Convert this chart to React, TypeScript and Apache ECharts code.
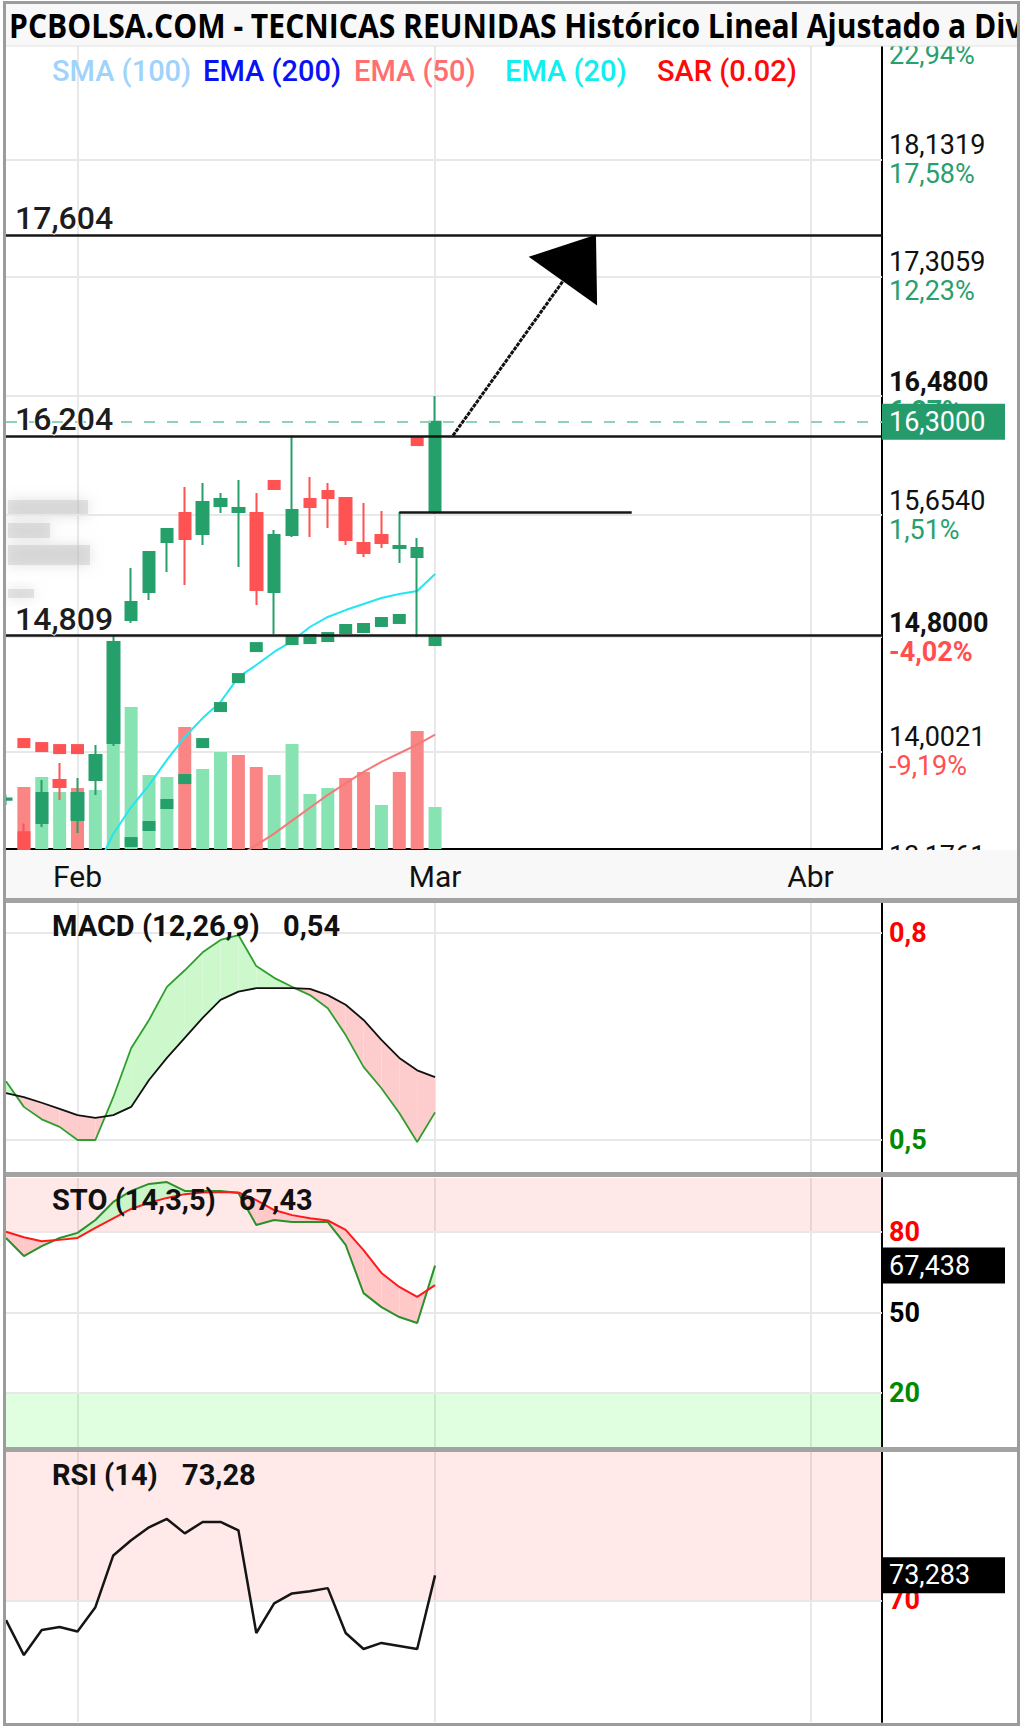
import React, { useEffect, useRef } from "react";
import * as echarts from "echarts";

// ---------------- DATA ----------------
const dates = [
  "2025-01-28", "2025-01-29", "2025-01-30", "2025-01-31", "2025-02-03", "2025-02-04", "2025-02-05",
  "2025-02-06", "2025-02-07", "2025-02-10", "2025-02-11", "2025-02-12", "2025-02-13", "2025-02-14",
  "2025-02-17", "2025-02-18", "2025-02-19", "2025-02-20", "2025-02-21", "2025-02-24", "2025-02-25",
  "2025-02-26", "2025-02-27", "2025-02-28", "2025-03-03", "2025-03-04", "2025-03-05", "2025-03-06",
  "2025-03-07", "2025-03-10", "2025-03-11", "2025-03-12", "2025-03-13", "2025-03-14", "2025-03-17",
  "2025-03-18", "2025-03-19", "2025-03-20", "2025-03-21", "2025-03-24", "2025-03-25", "2025-03-26",
  "2025-03-27", "2025-03-28", "2025-03-31", "2025-04-01", "2025-04-02", "2025-04-03", "2025-04-04",
  "2025-04-07",
];
const monthNames = ["Ene", "Feb", "Mar", "Abr", "May", "Jun", "Jul", "Ago", "Sep", "Oct", "Nov", "Dic"];

const openP = [13.665, 13.44, 13.504, 13.803, 13.524, 13.803, 14.061, 14.919, 15.114, 15.462, 15.665, 15.518, 15.713, 15.672, 15.665, 15.114, 15.511, 15.762, 15.818, 15.769, 15.455, 15.511, 15.42, 15.358, 15.672];
const closeP = [13.675, 13.3, 13.713, 13.754, 13.713, 13.978, 14.765, 15.044, 15.393, 15.553, 15.483, 15.741, 15.762, 15.699, 15.128, 15.511, 15.685, 15.706, 15.769, 15.476, 15.386, 15.455, 15.434, 15.42, 16.3];
const lowP = [13.63, 13.25, 13.476, 13.664, 13.434, 13.699, 14.04, 14.898, 15.058, 15.253, 15.163, 15.441, 15.665, 15.288, 15.023, 14.82, 15.497, 15.497, 15.56, 15.441, 15.358, 15.42, 15.316, 14.8, 15.66];
const highP = [13.7, 13.5, 13.803, 13.922, 13.817, 14.047, 14.809, 15.281, 15.4, 15.56, 15.846, 15.874, 15.804, 15.895, 15.804, 15.546, 16.204, 15.916, 15.874, 15.776, 15.734, 15.679, 15.672, 15.49, 16.48];

// volume, thousands of shares
const volumes = [null, 620, 720, 570, 610, 590, 1300, 1420, 740, 720, 1220, 800, 970, 940, 820, 740, 1050, 550, 610, 710, 770, 440, 770, 1180, 420];
const volumeUp = [true, false, true, true, false, true, true, true, true, true, false, true, true, false, false, true, true, true, true, false, false, true, false, false, true];

const ema20 = [null, null, null, null, null, 13.176, 13.427, 13.615, 13.768, 13.943, 14.103, 14.235, 14.347, 14.521, 14.605, 14.696, 14.772, 14.87, 14.94, 14.988, 15.03, 15.072, 15.1, 15.121, 15.239];
const ema50 = [null, null, null, null, null, null, null, null, null, null, null, null, 13.2, 13.27, 13.35, 13.43, 13.52, 13.61, 13.7, 13.78, 13.86, 13.93, 13.99, 14.05, 14.12];

const sarBelow = [null, null, null, null, null, 13.2, 13.3, 13.371, 13.483, 13.636, 13.81, 14.061, 14.312, 14.514, 14.73, null, 14.779, 14.786, 14.8, 14.856, 14.863, 14.905, 14.926, null, 14.772];
const sarAbove = [null, 14.061, 14.033, 14.019, 14.019, null, null, null, null, null, null, null, null, null, null, 15.86, null, null, null, null, null, null, null, 16.166, null];

const macdLine = [0.585, 0.548, 0.53, 0.519, 0.5, 0.5, 0.562, 0.633, 0.674, 0.722, 0.746, 0.772, 0.79, 0.797, 0.752, 0.735, 0.722, 0.71, 0.691, 0.652, 0.606, 0.575, 0.539, 0.497, 0.54];
const macdSignal = [0.568, 0.562, 0.554, 0.545, 0.536, 0.532, 0.536, 0.548, 0.587, 0.619, 0.648, 0.677, 0.703, 0.715, 0.72, 0.72, 0.72, 0.719, 0.71, 0.696, 0.674, 0.645, 0.619, 0.601, 0.591];

const stoK = [77.7, 71.0, 74.7, 77.7, 79.6, 84.4, 91.1, 95.2, 97.8, 98.5, 95.2, 95.2, 95.2, 94.4, 82.5, 84.4, 83.6, 83.6, 83.6, 75.1, 57.2, 52.0, 48.3, 46.1, 67.438];
const stoD = [80.0, 78.0, 76.5, 77.0, 77.7, 81.5, 85.0, 88.5, 90.8, 92.6, 94.0, 94.6, 94.8, 94.6, 91.8, 88.1, 86.2, 85.0, 84.2, 80.7, 73.2, 64.7, 59.5, 55.8, 60.2];
const rsi14 = [67.4, 62.8, 66.1, 66.5, 65.9, 69.1, 75.9, 77.9, 79.6, 80.7, 78.8, 80.3, 80.3, 79.2, 65.7, 69.6, 70.9, 71.2, 71.6, 65.7, 63.6, 64.4, 64.0, 63.6, 73.283];

// price scale ticks (first and last fall just outside the visible price range)
const priceTicks = [18.958, 18.1319, 17.3059, 16.48, 15.654, 14.8, 14.0021, 13.1761];
const priceTickText = ["18,9580", "18,1319", "17,3059", "16,4800", "15,6540", "14,8000", "14,0021", "13,1761"];
const priceTickPct = ["22,94%", "17,58%", "12,23%", "6,87%", "1,51%", "-4,02%", "-9,19%", "-14,55%"];
const priceTickBold = [false, false, false, true, false, true, false, false];
const priceTickStep = 0.82595;

const levelValues = [17.604, 16.204, 14.809];
const levelText = ["17,604", "16,204", "14,809"];
const lastPrice = 16.3;
const lastPriceText = "16,3000";
const stepLevel = 15.672;
const stepFrom = 22;
const stepTo = 35;
const arrowFrom = [25, 16.204];
const arrowTo = [33, 17.604];

const macdTicks = [0.8, 0.5];
const macdTickText = ["0,8", "0,5"];
const macdTickColor = ["#ff0000", "#008a00"];
const stoTicks = [80, 50, 20];
const stoTickText = ["80", "50", "20"];
const stoTickColor = ["#ff0000", "#000000", "#008a00"];
const rsiTicks = [70];
const rsiTickText = ["70"];
const rsiTickColor = ["#ff0000"];
const stoLastText = "67,438";
const rsiLastText = "73,283";

const titleText = "PCBOLSA.COM - TECNICAS REUNIDAS Histórico Lineal Ajustado a Div";
const legendNames = ["SMA (100)", "EMA (200)", "EMA (50)", "EMA (20)", "SAR (0.02)"];
const legendColors = ["#9fd3fb", "#0a12f5", "#ff6f6f", "#10eeee", "#ff0a0a"];
const panelTitles = [
  ["MACD (12,26,9)", "0,54"],
  ["STO (14,3,5)", "67,43"],
  ["RSI (14)", "73,28"],
];

// ---------------- LAYOUT / STYLE ----------------
const W = 1022;
const H = 1729;
const GL = 6;
const GW = 876;
const MAIN_TOP = 46;
const MAIN_H = 803;
const PMIN = 13.3225;
const PMAX = 18.92;
const F = "Roboto";
const GREEN = "#26a06a";
const RED = "#ff5252";
const VOL_GREEN = "#88e3b3";
const VOL_RED = "#f98585";
const GRIDC = "#e8e8e8";
const CLEAR = "rgba(0,0,0,0)";

const isMonthStart = (i: number) => i > 0 && dates[i].slice(5, 7) !== dates[i - 1].slice(5, 7);
const nz = (a: (number | null)[]) => a.map((v) => (v == null ? "-" : v));

function measure(text: string, font: string) {
  const c = document.createElement("canvas").getContext("2d");
  if (!c) return text.length * 16;
  c.font = font;
  return c.measureText(text).width;
}

function xAxisFor(gridIndex: number, showLine: boolean) {
  return {
    type: "category",
    gridIndex,
    data: dates,
    boundaryGap: false,
    axisLine: { show: showLine, onZero: false, lineStyle: { color: "#000", width: 2 } },
    axisTick: { show: false },
    axisLabel: { show: false },
    splitLine: { show: true, interval: (i: number) => isMonthStart(i), lineStyle: { color: GRIDC, width: 2 } },
  };
}

function yAxisFor(gridIndex: number, min: number, max: number) {
  return {
    type: "value",
    gridIndex,
    position: "right",
    min,
    max,
    axisLine: { show: true, lineStyle: { color: "#000", width: 2 } },
    axisTick: { show: false },
    axisLabel: { show: false },
    splitLine: { show: false },
  };
}

function fillSeries(xi: number, yi: number, a: number[], b: number[], up: string, down: string) {
  const segs: number[][] = [];
  for (let i = 0; i < a.length - 1; i++) segs.push([i, a[i], b[i], a[i + 1], b[i + 1]]);
  return {
    type: "custom",
    xAxisIndex: xi,
    yAxisIndex: yi,
    z: 2,
    silent: true,
    data: segs,
    encode: { x: 0, y: 1 },
    renderItem: (params: any, api: any) => {
      const i = api.value(0);
      const a0 = api.value(1), b0 = api.value(2), a1 = api.value(3), b1 = api.value(4);
      const pa0 = api.coord([i, a0]), pb0 = api.coord([i, b0]);
      const pa1 = api.coord([i + 1, a1]), pb1 = api.coord([i + 1, b1]);
      const d0 = a0 - b0, d1 = a1 - b1;
      const children: any[] = [];
      if (d0 * d1 >= 0) {
        children.push({ type: "polygon", shape: { points: [pa0, pa1, pb1, pb0] }, style: { fill: d0 + d1 >= 0 ? up : down } });
      } else {
        const t = d0 / (d0 - d1);
        const p = [pa0[0] + (pa1[0] - pa0[0]) * t, pa0[1] + (pa1[1] - pa0[1]) * t];
        children.push({ type: "polygon", shape: { points: [pa0, p, pb0] }, style: { fill: d0 > 0 ? up : down } });
        children.push({ type: "polygon", shape: { points: [p, pa1, pb1] }, style: { fill: d1 > 0 ? up : down } });
      }
      return { type: "group", children };
    },
  };
}

function tickLine(v: number, text: string, color: string) {
  return {
    yAxis: v,
    label: { formatter: text, color, fontWeight: "bold", fontSize: 27, fontFamily: F },
  };
}

function boxItem(v: number, text: string, bg: string) {
  return {
    yAxis: v,
    lineStyle: { color: CLEAR, width: 1 },
    label: {
      show: true,
      position: "end",
      distance: 0,
      formatter: text,
      backgroundColor: bg,
      color: "#fff",
      fontFamily: F,
      fontSize: 27,
      fontWeight: "normal",
      lineHeight: 28,
      padding: [4, 7, 4, 7],
      width: 109,
    },
  };
}

function priceTickRich(i: number) {
  const pk = priceTickBold[i] ? "pb" : "p";
  const neg = priceTickPct[i].startsWith("-");
  const qk = (neg ? "r" : "g") + (priceTickBold[i] ? "b" : "");
  return `{${pk}|${priceTickText[i]}}\n{${qk}|${priceTickPct[i]}}`;
}

function buildOption() {
  const titleFont = 'bold 34px "Open Sans"';
  const titleScale = 1014 / measure(titleText, titleFont);

  const inRange = (v: number) => v >= PMIN && v <= PMAX;
  const priceTickItems = priceTicks
    .map((v, i) => ({ v, i }))
    .filter((t) => inRange(t.v))
    .map((t) => ({ yAxis: t.v, label: { formatter: priceTickRich(t.i) } }));

  // outer scale grid spanning the outermost ticks (only used for the labels outside the visible range)
  const pxPerUnit = MAIN_H / (PMAX - PMIN);
  const tMax = priceTicks[0];
  const tMin = priceTicks[priceTicks.length - 1];
  const outerTop = MAIN_TOP - (tMax - PMAX) * pxPerUnit;
  const outerH = (tMax - tMin) * pxPerUnit;

  const levelItems: any[] = levelValues.map((v, i) => ({
    yAxis: v,
    lineStyle: { color: "#161616", width: 2.5, type: "solid" },
    label: {
      show: true,
      position: "insideStartTop",
      distance: [9, 1],
      formatter: levelText[i],
      fontFamily: F,
      fontSize: 32,
      fontWeight: 500,
      color: "#1d1d1d",
      textBorderColor: "#fff",
      textBorderWidth: 2,
    },
  }));
  levelItems.push({
    yAxis: lastPrice,
    lineStyle: { color: "#8fd1b9", width: 2, type: [11, 12] },
    label: {
      show: true,
      position: "end",
      distance: 0,
      formatter: lastPriceText,
      backgroundColor: "#259b6c",
      color: "#fff",
      fontFamily: F,
      fontSize: 27,
      lineHeight: 28,
      padding: [4, 7, 4, 7],
      width: 109,
    },
  });
  levelItems.push([
    { coord: [stepFrom, stepLevel], lineStyle: { color: "#161616", width: 2.5, type: "solid" }, label: { show: false } },
    { coord: [stepTo, stepLevel] },
  ]);

  const legendX = [52, 203, 354, 505, 657];
  const panelY = [926, 1200, 1475];
  const panelValX = [283, 239, 182];
  const smudge = { fill: "rgba(190,190,190,0.4)", shadowBlur: 14, shadowColor: "rgba(175,175,175,0.9)" };

  const graphics: any[] = [
    { type: "rect", z: 1, shape: { x: 8, y: 500, width: 80, height: 16 }, style: smudge },
    { type: "rect", z: 1, shape: { x: 8, y: 523, width: 42, height: 15 }, style: smudge },
    { type: "rect", z: 1, shape: { x: 8, y: 545, width: 82, height: 20 }, style: smudge },
    { type: "rect", z: 1, shape: { x: 8, y: 589, width: 26, height: 9 }, style: smudge },

    { type: "rect", z: 100, shape: { x: 5, y: 3, width: 1013, height: 43 }, style: { fill: "#f8f8f8" } },
    { type: "line", z: 100, shape: { x1: 5, y1: 46, x2: 1018, y2: 46 }, style: { stroke: "#e2e2e2", lineWidth: 1 } },
    {
      type: "text", z: 101, x: 9, y: 25, scaleX: titleScale,
      style: { text: titleText, fontFamily: "Open Sans", fontWeight: "bold", fontSize: 34, fill: "#000", verticalAlign: "middle" },
    },
    ...legendNames.map((n, i) => ({
      type: "text", z: 101, x: legendX[i], y: 71,
      style: { text: n, fontFamily: F, fontWeight: 500, fontSize: 29, fill: legendColors[i], verticalAlign: "middle" },
    })),
    { type: "rect", z: 100, shape: { x: 5, y: 850, width: 1013, height: 48 }, style: { fill: "#f8f8f8" } },
    { type: "rect", z: 100, shape: { x: 5, y: 898, width: 1013, height: 5 }, style: { fill: "#a3a3a3" } },
    { type: "rect", z: 100, shape: { x: 5, y: 1172, width: 1013, height: 5 }, style: { fill: "#a3a3a3" } },
    { type: "rect", z: 100, shape: { x: 5, y: 1447, width: 1013, height: 5 }, style: { fill: "#a3a3a3" } },
    ...panelTitles.flatMap((t, i) => [
      { type: "text", z: 101, x: 52, y: panelY[i], style: { text: t[0], fontFamily: F, fontWeight: "bold", fontSize: 29, fill: "#111", verticalAlign: "middle" } },
      { type: "text", z: 101, x: panelValX[i], y: panelY[i], style: { text: t[1], fontFamily: F, fontWeight: "bold", fontSize: 29, fill: "#111", verticalAlign: "middle" } },
    ]),
    { type: "rect", z: 102, shape: { x: 0, y: 0, width: 4, height: H }, style: { fill: "#fff" } },
    { type: "rect", z: 102, shape: { x: 1019, y: 0, width: 3, height: H }, style: { fill: "#fff" } },
    { type: "rect", z: 103, shape: { x: 4.5, y: 2.5, width: 1014, height: 1722 }, style: { fill: "none", stroke: "#9c9c9c", lineWidth: 3 } },
  ];

  const rich = {
    p: { fontFamily: F, fontSize: 27, lineHeight: 29, color: "#111" },
    pb: { fontFamily: F, fontSize: 27, lineHeight: 29, color: "#111", fontWeight: "bold" },
    g: { fontFamily: F, fontSize: 27, lineHeight: 29, color: "#2a9f6e" },
    gb: { fontFamily: F, fontSize: 27, lineHeight: 29, color: "#2a9f6e", fontWeight: "bold" },
    r: { fontFamily: F, fontSize: 27, lineHeight: 29, color: "#ff4f4f" },
    rb: { fontFamily: F, fontSize: 27, lineHeight: 29, color: "#ff4f4f", fontWeight: "bold" },
  };

  return {
    animation: false,
    backgroundColor: "#fff",
    grid: [
      { left: GL, top: MAIN_TOP, width: GW, height: MAIN_H },
      { left: GL, top: 903, width: GW, height: 269 },
      { left: GL, top: 1178, width: GW, height: 269 },
      { left: GL, top: 1452, width: GW, height: 270 },
      { left: GL, top: 849, width: GW, height: 1 },
      { left: GL, top: outerTop, width: GW, height: outerH },
    ],
    xAxis: [
      xAxisFor(0, true),
      xAxisFor(1, false),
      xAxisFor(2, false),
      xAxisFor(3, false),
      {
        type: "category",
        gridIndex: 4,
        data: dates,
        boundaryGap: false,
        z: 110,
        axisLine: { show: false },
        axisTick: { show: false },
        splitLine: { show: false },
        axisLabel: {
          show: true,
          interval: (i: number) => isMonthStart(i),
          formatter: (v: string) => monthNames[parseInt(v.slice(5, 7), 10) - 1],
          margin: 11,
          fontFamily: F,
          fontSize: 30,
          color: "#111",
        },
      },
      { type: "category", gridIndex: 5, data: dates, boundaryGap: false, show: false },
    ],
    yAxis: [
      yAxisFor(0, PMIN, PMAX),
      { type: "value", gridIndex: 0, min: 0, max: 8030, show: false },
      yAxisFor(1, 0.45362, 0.84348),
      yAxisFor(2, 0, 100),
      yAxisFor(3, 54, 89.5),
      { type: "value", gridIndex: 4, show: false },
      {
        type: "value",
        gridIndex: 5,
        position: "right",
        min: tMin,
        max: tMax,
        interval: priceTickStep,
        axisLine: { show: false },
        axisTick: { show: false },
        splitLine: { show: false },
        axisLabel: {
          show: true,
          showMinLabel: true,
          showMaxLabel: true,
          margin: 7,
          rich,
          formatter: (v: number) => {
            const i = priceTicks.findIndex((t) => Math.abs(t - v) < 0.02);
            if (i < 0 || inRange(priceTicks[i])) return "";
            return priceTickRich(i);
          },
        },
      },
    ],
    graphic: { elements: graphics },
    series: [
      {
        name: "Volumen",
        type: "bar",
        xAxisIndex: 0,
        yAxisIndex: 1,
        barWidth: 13,
        z: 2,
        silent: true,
        data: volumes.map((v, i) => (v == null ? "-" : { value: v, itemStyle: { color: volumeUp[i] ? VOL_GREEN : VOL_RED } })),
      },
      {
        name: "EMA (50)",
        type: "line",
        xAxisIndex: 0,
        yAxisIndex: 0,
        z: 3,
        silent: true,
        showSymbol: false,
        data: nz(ema50),
        lineStyle: { color: "#f47a7a", width: 2 },
        markLine: {
          silent: true,
          symbol: "none",
          z: 1,
          animation: false,
          lineStyle: { color: GRIDC, width: 2, type: "solid" },
          label: { show: true, position: "end", distance: 7, fontFamily: F, rich },
          data: priceTickItems,
        },
      },
      {
        name: "EMA (20)",
        type: "line",
        xAxisIndex: 0,
        yAxisIndex: 0,
        z: 3,
        silent: true,
        showSymbol: false,
        data: nz(ema20),
        lineStyle: { color: "#22e6f0", width: 2 },
        markLine: {
          silent: true,
          symbol: "none",
          z: 6,
          animation: false,
          data: levelItems,
        },
      },
      {
        name: "Precio",
        type: "candlestick",
        xAxisIndex: 0,
        yAxisIndex: 0,
        z: 4,
        silent: true,
        barWidth: 12,
        data: openP.map((o, i) => [o, closeP[i], lowP[i], highP[i]]),
        itemStyle: { color: GREEN, color0: RED, borderColor: GREEN, borderColor0: RED, borderWidth: 2 },
      },
      {
        name: "SAR up",
        type: "scatter",
        xAxisIndex: 0,
        yAxisIndex: 0,
        z: 5,
        silent: true,
        symbol: "rect",
        symbolSize: [13, 10],
        data: nz(sarBelow),
        itemStyle: { color: GREEN, opacity: 1 },
      },
      {
        name: "SAR down",
        type: "scatter",
        xAxisIndex: 0,
        yAxisIndex: 0,
        z: 5,
        silent: true,
        symbol: "rect",
        symbolSize: [13, 10],
        data: nz(sarAbove),
        itemStyle: { color: RED, opacity: 1 },
      },
      {
        type: "custom",
        xAxisIndex: 0,
        yAxisIndex: 0,
        z: 7,
        silent: true,
        data: [[arrowFrom[0], arrowFrom[1], arrowTo[0], arrowTo[1]]],
        encode: { x: 0, y: 1 },
        renderItem: (params: any, api: any) => {
          const p0 = api.coord([api.value(0), api.value(1)]);
          const p1 = api.coord([api.value(2), api.value(3)]);
          const dx = p1[0] - p0[0], dy = p1[1] - p0[1];
          const len = Math.hypot(dx, dy);
          const ux = dx / len, uy = dy / len;
          const headLen = 57, half = 42;
          const base = [p1[0] - ux * headLen, p1[1] - uy * headLen];
          const l = [base[0] + uy * half, base[1] - ux * half];
          const r = [base[0] - uy * half, base[1] + ux * half];
          return {
            type: "group",
            children: [
              { type: "line", shape: { x1: p0[0], y1: p0[1], x2: base[0], y2: base[1] }, style: { stroke: "#111", lineWidth: 3, lineDash: [4, 1] } },
              { type: "polygon", shape: { points: [p1, l, r] }, style: { fill: "#000" } },
            ],
          };
        },
      },
      // MACD
      fillSeries(1, 2, macdLine, macdSignal, "#ccf8cc", "#fdcccc"),
      {
        name: "MACD",
        type: "line",
        xAxisIndex: 1,
        yAxisIndex: 2,
        z: 3,
        silent: true,
        showSymbol: false,
        data: macdLine,
        lineStyle: { color: "#2f9e2f", width: 1.8 },
      },
      {
        name: "Señal",
        type: "line",
        xAxisIndex: 1,
        yAxisIndex: 2,
        z: 3,
        silent: true,
        showSymbol: false,
        data: macdSignal,
        lineStyle: { color: "#111", width: 1.8 },
        markLine: {
          silent: true,
          symbol: "none",
          z: 1,
          animation: false,
          lineStyle: { color: GRIDC, width: 2, type: "solid" },
          label: { show: true, position: "end", distance: 7 },
          data: macdTicks.map((v, i) => tickLine(v, macdTickText[i], macdTickColor[i])),
        },
      },
      // STO
      fillSeries(2, 3, stoK, stoD, "#c9f5c9", "#ffc9c9"),
      {
        name: "%K",
        type: "line",
        xAxisIndex: 2,
        yAxisIndex: 3,
        z: 3,
        silent: true,
        showSymbol: false,
        data: stoK,
        lineStyle: { color: "#2a912a", width: 2 },
        markLine: {
          silent: true,
          symbol: "none",
          z: 8,
          animation: false,
          data: [boxItem(stoK[stoK.length - 1], stoLastText, "#000")],
        },
      },
      {
        name: "%D",
        type: "line",
        xAxisIndex: 2,
        yAxisIndex: 3,
        z: 3,
        silent: true,
        showSymbol: false,
        data: stoD,
        lineStyle: { color: "#ff1a1a", width: 2 },
        markArea: {
          silent: true,
          z: 1,
          data: [
            [{ yAxis: 80, itemStyle: { color: "rgba(255,0,0,0.09)" } }, { yAxis: 100 }],
            [{ yAxis: 0, itemStyle: { color: "rgba(0,255,0,0.12)" } }, { yAxis: 20 }],
          ],
        },
        markLine: {
          silent: true,
          symbol: "none",
          z: 1,
          animation: false,
          lineStyle: { color: GRIDC, width: 2, type: "solid" },
          label: { show: true, position: "end", distance: 7 },
          data: stoTicks.map((v, i) => tickLine(v, stoTickText[i], stoTickColor[i])),
        },
      },
      // RSI
      {
        name: "RSI",
        type: "line",
        xAxisIndex: 3,
        yAxisIndex: 4,
        z: 3,
        silent: true,
        showSymbol: false,
        data: rsi14,
        lineStyle: { color: "#151515", width: 2.5 },
        markArea: {
          silent: true,
          z: 1,
          data: [[{ yAxis: 70, itemStyle: { color: "rgba(255,0,0,0.085)" } }, { yAxis: 89.5 }]],
        },
        markLine: {
          silent: true,
          symbol: "none",
          z: 1,
          animation: false,
          lineStyle: { color: GRIDC, width: 2, type: "solid" },
          label: { show: true, position: "end", distance: 7 },
          data: rsiTicks.map((v, i) => tickLine(v, rsiTickText[i], rsiTickColor[i])),
        },
      },
      {
        name: "RSI tag",
        type: "line",
        xAxisIndex: 3,
        yAxisIndex: 4,
        z: 8,
        silent: true,
        showSymbol: false,
        data: rsi14,
        lineStyle: { color: CLEAR, width: 0 },
        markLine: {
          silent: true,
          symbol: "none",
          z: 8,
          animation: false,
          data: [boxItem(rsi14[rsi14.length - 1], rsiLastText, "#000")],
        },
      },
    ],
  };
}

export default function App() {
  const ref = useRef<HTMLDivElement>(null);
  useEffect(() => {
    document.body.style.margin = "0";
    if (!ref.current) return;
    const chart = echarts.init(ref.current, null, { renderer: "svg", width: W, height: H });
    chart.setOption(buildOption() as any);
    return () => chart.dispose();
  }, []);
  return <div ref={ref} style={{ width: W, height: H }} />;
}
